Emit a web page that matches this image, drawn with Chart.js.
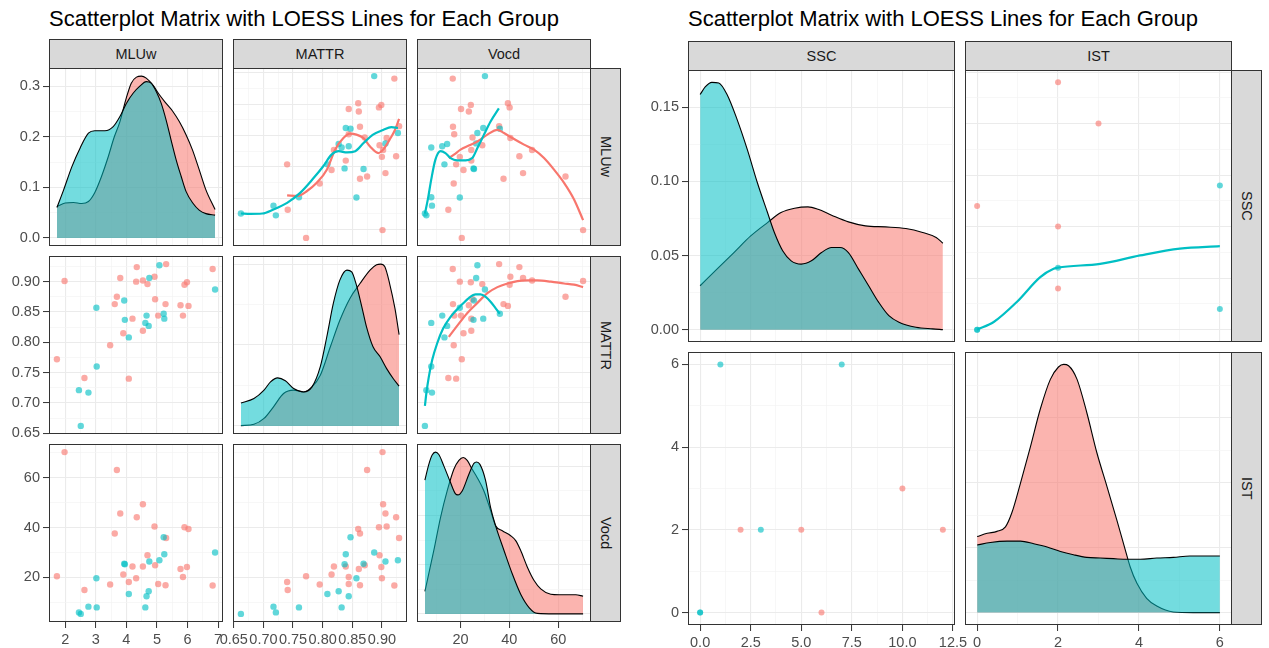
<!DOCTYPE html>
<html>
<head>
<meta charset="utf-8">
<script src="https://cdn.jsdelivr.net/npm/chart.js@4.4.1/dist/chart.umd.min.js"></script>
<style>
  body { margin: 0; background: #fff; width: 1269px; height: 648px; position: relative; overflow: hidden;
         font-family: "Liberation Sans", Arial, sans-serif; }
  .title { position: absolute; top: 8px; font-size: 22px; line-height: 22px; color: #000; white-space: nowrap; }
  .strip { position: absolute; box-sizing: border-box; background: #d9d9d9; border: 1px solid #333;
           display: flex; align-items: center; justify-content: center; font-size: 14.5px; color: #1a1a1a; }
  .strip.side span { writing-mode: vertical-rl; }
  canvas { position: absolute; }
</style>
</head>
<body>
<div class="title" style="left:49px">Scatterplot Matrix with LOESS Lines for Each Group</div>
<div class="title" style="left:688px">Scatterplot Matrix with LOESS Lines for Each Group</div>

<script>
  const RED = '#F8766D';
  const TEAL = '#00BFC4';
  const RED_PT = 'rgba(248,118,109,0.62)';
  const TEAL_PT = 'rgba(0,191,196,0.62)';
  const RED_FILL = 'rgba(248,118,109,0.55)';
  const TEAL_FILL = 'rgba(0,191,196,0.55)';
  const FONT = "'Liberation Sans', Arial, sans-serif";

  // ---- left matrix: MLUw / MATTR / Vocd per child ----
  const mluRed   = [1.73, 1.98, 2.63, 3.47, 3.62, 3.69, 3.80, 3.90, 4.08, 4.20, 4.32, 4.34, 4.54, 4.54, 4.69, 4.92, 4.94, 5.04, 5.28, 5.30, 5.77, 5.85, 5.90, 5.98, 6.03, 6.82];
  const mattrRed = [0.772, 0.901, 0.741, 0.795, 0.863, 0.875, 0.906, 0.815, 0.740, 0.839, 0.900, 0.924, 0.902, 0.819, 0.896, 0.908, 0.871, 0.844, 0.863, 0.929, 0.861, 0.844, 0.895, 0.899, 0.860, 0.921];
  const vocdRed  = [20.5, 70.2, 15.0, 17.2, 37.6, 63.0, 45.6, 21.2, 18.2, 24.4, 19.7, 44.1, 49.3, 24.4, 28.9, 40.4, 24.9, 17.4, 16.9, 35.8, 23.4, 20.2, 40.1, 24.2, 39.4, 16.8];

  const mluTeal   = [2.45, 2.51, 2.76, 3.02, 3.03, 3.93, 3.95, 4.08, 4.62, 4.66, 4.73, 4.75, 5.08, 5.22, 5.24, 6.90];
  const mattrTeal = [0.721, 0.662, 0.717, 0.857, 0.760, 0.869, 0.837, 0.808, 0.832, 0.844, 0.827, 0.906, 0.927, 0.847, 0.839, 0.887];
  const vocdTeal  = [6.0, 5.4, 8.3, 19.7, 8.0, 25.5, 25.3, 13.4, 8.0, 12.5, 14.5, 26.4, 26.9, 36.1, 29.3, 30.0];

  // densities on the diagonal
  const mluDenRedX  = [1.73, 2.00, 2.27, 2.54, 2.76, 2.97, 3.19, 3.41, 3.59, 3.79, 3.98, 4.16, 4.33, 4.49, 4.65, 4.87, 5.08, 5.30, 5.52, 5.73, 5.95, 6.16, 6.38, 6.60, 6.90];
  const mluDenRedY  = [0.062, 0.069, 0.070, 0.068, 0.072, 0.090, 0.122, 0.161, 0.197, 0.230, 0.273, 0.306, 0.318, 0.320, 0.316, 0.302, 0.283, 0.266, 0.250, 0.230, 0.204, 0.174, 0.135, 0.095, 0.056];
  const mluDenTealX = [1.73, 1.95, 2.22, 2.49, 2.76, 2.97, 3.30, 3.57, 3.79, 4.00, 4.22, 4.44, 4.65, 4.81, 4.98, 5.14, 5.30, 5.46, 5.63, 5.79, 5.95, 6.17, 6.38, 6.60, 6.90];
  const mluDenTealY = [0.060, 0.095, 0.141, 0.178, 0.207, 0.212, 0.212, 0.220, 0.240, 0.266, 0.286, 0.300, 0.309, 0.306, 0.289, 0.266, 0.233, 0.194, 0.154, 0.122, 0.092, 0.069, 0.055, 0.048, 0.045];

  const mattrDenRedX  = [0.662, 0.684, 0.701, 0.717, 0.734, 0.751, 0.768, 0.782, 0.796, 0.813, 0.829, 0.846, 0.863, 0.880, 0.891, 0.898, 0.905, 0.913, 0.922, 0.929];
  const mattrDenRedY  = [0.02, 0.10, 0.46, 1.18, 2.00, 2.21, 2.10, 2.41, 3.13, 4.89, 6.53, 7.88, 8.80, 9.63, 9.96, 10.0, 9.83, 8.80, 7.26, 5.64];
  const mattrDenTealX = [0.662, 0.684, 0.701, 0.712, 0.724, 0.737, 0.751, 0.768, 0.782, 0.796, 0.807, 0.818, 0.829, 0.841, 0.849, 0.857, 0.866, 0.874, 0.885, 0.897, 0.908, 0.919, 0.929];
  const mattrDenTealY = [1.42, 1.69, 2.21, 2.72, 2.97, 2.79, 2.31, 2.10, 2.41, 3.66, 5.51, 7.57, 9.01, 9.63, 9.52, 8.70, 7.37, 6.12, 4.89, 4.27, 3.54, 2.93, 2.46];

  const vocdDenRedX  = [5.4, 9.05, 11.79, 14.52, 17.26, 19.32, 21.1, 22.74, 24.79, 26.85, 29.58, 32.32, 34.37, 37.11, 40.53, 42.59, 44.64, 47.38, 50.12, 52.85, 56.96, 60.38, 63.8, 67.22, 70.2];
  const vocdDenRedY  = [0.0046, 0.0129, 0.0196, 0.0250, 0.0294, 0.0312, 0.0318, 0.0312, 0.0294, 0.0277, 0.0250, 0.0210, 0.0179, 0.0169, 0.0159, 0.0149, 0.0129, 0.0095, 0.0068, 0.0051, 0.0040, 0.0039, 0.0039, 0.0039, 0.0036];
  const vocdDenTealX = [5.4, 7.0, 8.37, 9.73, 11.1, 13.15, 15.89, 17.95, 18.9, 20.68, 23.42, 25.47, 26.57, 27.94, 30.27, 32.32, 34.37, 37.8, 41.22, 44.64, 48.06, 51.49, 58.33, 70.2];
  const vocdDenTealY = [0.0272, 0.0304, 0.0323, 0.0329, 0.0324, 0.0301, 0.0267, 0.0244, 0.0242, 0.0250, 0.0284, 0.0306, 0.0309, 0.0304, 0.0271, 0.0216, 0.0179, 0.0129, 0.0081, 0.0040, 0.0013, 0.0001, 0, 0];

  // loess smooths in the upper triangle
  const loMattrMluRedX  = [0.740, 0.757, 0.773, 0.790, 0.807, 0.821, 0.835, 0.846, 0.857, 0.869, 0.880, 0.894, 0.902, 0.913, 0.922, 0.929];
  const loMattrMluRedY  = [3.09, 3.07, 3.22, 3.49, 3.91, 4.55, 4.92, 5.06, 5.03, 4.92, 4.65, 4.44, 4.55, 4.87, 5.18, 5.53];
  const loMattrMluTealX = [0.662, 0.678, 0.698, 0.717, 0.740, 0.762, 0.785, 0.801, 0.815, 0.827, 0.841, 0.855, 0.869, 0.885, 0.902, 0.916, 0.927];
  const loMattrMluTealY = [2.51, 2.50, 2.51, 2.64, 2.85, 3.17, 3.65, 4.02, 4.39, 4.50, 4.46, 4.50, 4.76, 5.03, 5.18, 5.27, 5.24];

  const loVocdMluRedX  = [15.2, 17.3, 20.0, 23.4, 26.9, 31.0, 35.1, 37.8, 41.2, 46.0, 50.1, 54.2, 58.3, 62.4, 66.5, 70.2];
  const loVocdMluRedY  = [4.28, 4.39, 4.55, 4.68, 4.81, 5.03, 5.18, 5.08, 4.92, 4.71, 4.55, 4.28, 3.91, 3.49, 2.96, 2.30];
  const loVocdMluTealX = [5.4, 6.6, 8.0, 9.7, 11.8, 13.8, 15.9, 18.6, 22.1, 24.8, 26.9, 29.6, 32.3, 35.7];
  const loVocdMluTealY = [2.51, 2.96, 3.60, 4.23, 4.50, 4.44, 4.28, 4.21, 4.21, 4.28, 4.60, 5.03, 5.45, 5.87];

  const loVocdMattrRedX  = [15.2, 18.6, 22.7, 26.9, 31.0, 35.1, 39.2, 43.3, 47.4, 51.5, 57.0, 62.4, 66.5, 70.2];
  const loVocdMattrRedY  = [0.809, 0.827, 0.848, 0.865, 0.881, 0.891, 0.897, 0.901, 0.902, 0.902, 0.900, 0.897, 0.895, 0.891];
  const loVocdMattrTealX = [5.4, 6.0, 7.0, 8.4, 10.4, 12.9, 15.9, 20.0, 23.4, 26.2, 28.2, 30.3, 32.3, 34.4, 36.1];
  const loVocdMattrTealY = [0.695, 0.716, 0.743, 0.771, 0.798, 0.823, 0.842, 0.860, 0.873, 0.879, 0.879, 0.875, 0.867, 0.856, 0.847];

  // ---- right matrix: SSC / IST ----
  const sscRed  = [2, 5, 6, 10, 12];
  const istRed  = [2, 2, 0, 3, 2];
  const sscTeal = [0, 0, 1, 3, 7];
  const istTeal = [0, 0, 6, 2, 6];

  const sscDenRedX  = [0, 0.83, 1.67, 2.5, 3.33, 4.0, 4.67, 5.33, 5.83, 6.5, 7.33, 8.17, 9.17, 10.17, 11.0, 11.67, 12];
  const sscDenRedY  = [0.0296, 0.0408, 0.0520, 0.0632, 0.0722, 0.0790, 0.0819, 0.0828, 0.0812, 0.0772, 0.0727, 0.0700, 0.0693, 0.0682, 0.0655, 0.0621, 0.0583];
  const sscDenTealX = [0, 0.25, 0.58, 0.92, 1.33, 1.83, 2.33, 2.83, 3.33, 3.67, 4.08, 4.5, 5.0, 5.5, 6.0, 6.5, 6.92, 7.33, 7.83, 8.33, 8.83, 9.33, 9.83, 10.67, 11.5, 12];
  const sscDenTealY = [0.1586, 0.1637, 0.1668, 0.1664, 0.1586, 0.1417, 0.1216, 0.0991, 0.0790, 0.0655, 0.0532, 0.0464, 0.0442, 0.0464, 0.0520, 0.0554, 0.0554, 0.0520, 0.0408, 0.0296, 0.0184, 0.0094, 0.0050, 0.0016, 0.0005, 0];

  const istDenRedX  = [0, 0.25, 0.49, 0.70, 0.86, 1.07, 1.32, 1.56, 1.81, 2.01, 2.14, 2.26, 2.47, 2.71, 2.96, 3.21, 3.45, 3.66, 3.78, 3.95, 4.19, 4.44, 4.85, 5.34, 6];
  const istDenRedY  = [0.117, 0.122, 0.125, 0.132, 0.154, 0.199, 0.256, 0.313, 0.359, 0.378, 0.382, 0.380, 0.359, 0.308, 0.246, 0.194, 0.143, 0.097, 0.071, 0.045, 0.022, 0.010, 0.001, 0, 0];
  const istDenTealX = [0, 0.33, 0.74, 1.07, 1.40, 1.73, 2.06, 2.38, 2.71, 3.04, 3.37, 3.70, 4.03, 4.44, 4.85, 5.26, 5.67, 6];
  const istDenTealY = [0.104, 0.108, 0.110, 0.110, 0.106, 0.101, 0.094, 0.089, 0.085, 0.084, 0.083, 0.082, 0.082, 0.084, 0.085, 0.087, 0.087, 0.087];

  const loIstSscTealX = [0, 0.41, 0.98, 1.56, 1.89, 2.0, 3.04, 4.03, 5.01, 6.0];
  const loIstSscTealY = [0, 0.37, 1.34, 2.55, 2.95, 3.01, 3.19, 3.60, 3.93, 4.05];

  // ---- tick breaks ----
  const mluBreaks = [2, 3, 4, 5, 6, 7];
  const mluLabels = ['2', '3', '4', '5', '6', '7'];
  const mattrBreaks = [0.65, 0.70, 0.75, 0.80, 0.85, 0.90];
  const mattrLabels = ['0.65', '0.70', '0.75', '0.80', '0.85', '0.90'];
  const vocdBreaks = [20, 40, 60];
  const vocdLabels = ['20', '40', '60'];
  const mluDenBreaks = [0, 0.1, 0.2, 0.3];
  const mluDenLabels = ['0.0', '0.1', '0.2', '0.3'];
  const mattrDenBreaks = [0, 5, 10];
  const vocdDenBreaks = [0, 0.01, 0.02, 0.03];
  const sscBreaks = [0, 2.5, 5, 7.5, 10, 12.5];
  const sscLabels = ['0.0', '2.5', '5.0', '7.5', '10.0', '12.5'];
  const istBreaks = [0, 2, 4, 6];
  const istLabels = ['0', '2', '4', '6'];
  const sscDenBreaks = [0, 0.05, 0.10, 0.15];
  const sscDenLabels = ['0.00', '0.05', '0.10', '0.15'];
  const istDenBreaks = [0, 0.1, 0.2, 0.3, 0.4];

  // ggplot style 5% expansion of the data range
  function span(vals) {
    const lo = Math.min(...vals), hi = Math.max(...vals), d = (hi - lo) * 0.05;
    return [lo - d, hi + d];
  }

  // minor lines sit halfway between breaks (and one step beyond the ends)
  function makeSpec(vals, breaks, labels) {
    const [min, max] = span(vals);
    const step = breaks[1] - breaks[0];
    const minor = [];
    for (let i = -1; i < breaks.length; i++) {
      const v = breaks[0] + (i + 0.5) * step;
      if (v > min && v < max) minor.push(+v.toFixed(6));
    }
    return { min, max, breaks, labels: labels || breaks.map(String), minor };
  }

  const mluSpec   = makeSpec(mluRed.concat(mluTeal), mluBreaks, mluLabels);
  const mattrSpec = makeSpec(mattrRed.concat(mattrTeal), mattrBreaks, mattrLabels);
  const vocdSpec  = makeSpec(vocdRed.concat(vocdTeal), vocdBreaks, vocdLabels);
  const mluDenSpec   = makeSpec([0].concat(mluDenRedY, mluDenTealY), mluDenBreaks, mluDenLabels);
  const mattrDenSpec = makeSpec([0].concat(mattrDenRedY, mattrDenTealY), mattrDenBreaks);
  const vocdDenSpec  = makeSpec([0].concat(vocdDenRedY, vocdDenTealY), vocdDenBreaks);
  const sscSpec = makeSpec(sscRed.concat(sscTeal), sscBreaks, sscLabels);
  const istSpec = makeSpec(istRed.concat(istTeal), istBreaks, istLabels);
  const sscDenSpec = makeSpec([0].concat(sscDenRedY, sscDenTealY), sscDenBreaks, sscDenLabels);
  const istDenSpec = makeSpec([0].concat(istDenRedY, istDenTealY), istDenBreaks);

  const pairs = (xs, ys) => xs.map((x, i) => ({ x: x, y: ys[i] }));

  function points(xs, ys, color, r, order) {
    return { type: 'scatter', data: pairs(xs, ys), backgroundColor: color, borderColor: color,
             borderWidth: 0, pointRadius: r, order: order };
  }
  function smooth(xs, ys, color, order) {
    return { type: 'line', data: pairs(xs, ys), borderColor: color, borderWidth: 2.2, pointRadius: 0,
             fill: false, cubicInterpolationMode: 'monotone', order: order };
  }
  function density(xs, ys, fillColor, order) {
    return { type: 'line', data: pairs(xs, ys), borderColor: '#000', borderWidth: 1.1, pointRadius: 0,
             backgroundColor: fillColor, fill: 'origin', cubicInterpolationMode: 'monotone', order: order };
  }

  function axis(spec, size, pos) {
    const isMajor = v => spec.breaks.indexOf(v) >= 0;
    return {
      type: 'linear', position: pos, min: spec.min, max: spec.max,
      afterBuildTicks: s => {
        s.ticks = spec.breaks.concat(spec.minor).filter(v => v >= spec.min && v <= spec.max)
          .sort((a, b) => a - b).map(v => ({ value: v }));
      },
      afterFit: s => { if (pos === 'left') s.width = size; else s.height = size; },
      border: { display: false },
      grid: {
        color: c => (c.tick && isMajor(c.tick.value)) ? '#EBEBEB' : '#F4F4F4',
        lineWidth: c => (c.tick && isMajor(c.tick.value)) ? 1.1 : 0.7,
        drawTicks: size > 0, tickLength: 6, tickWidth: 1,
        tickColor: c => (c.tick && isMajor(c.tick.value)) ? '#333' : 'rgba(0,0,0,0)'
      },
      ticks: {
        display: size > 0, autoSkip: false, maxRotation: 0, minRotation: 0, padding: 3,
        color: '#4D4D4D', font: { family: FONT, size: 14.5 },
        callback: v => { const i = spec.breaks.indexOf(v); return i < 0 ? '' : spec.labels[i]; }
      }
    };
  }

  // dark frame round every panel
  const frame = {
    id: 'frame',
    afterDatasetsDraw(chart) {
      const a = chart.chartArea, ctx = chart.ctx;
      ctx.save();
      ctx.strokeStyle = '#333';
      ctx.lineWidth = 1;
      ctx.strokeRect(a.left + 0.5, a.top + 0.5, a.right - a.left - 1, a.bottom - a.top - 1);
      ctx.restore();
    }
  };

  function panel(rect, xSpec, ySpec, datasets, showY, showX) {
    const m = 24;
    const axL = showY ? 48 : 0;
    const axB = showX ? 30 : 0;
    const cv = document.createElement('canvas');
    cv.width = rect.w + axL + 2 * m;
    cv.height = rect.h + axB + 2 * m;
    cv.style.left = (rect.x - axL - m) + 'px';
    cv.style.top = (rect.y - m) + 'px';
    cv.style.width = cv.width + 'px';
    cv.style.height = cv.height + 'px';
    document.body.appendChild(cv);
    new Chart(cv, {
      type: 'scatter',
      data: { datasets: datasets },
      options: {
        responsive: false, animation: false, devicePixelRatio: 1, events: [],
        layout: { autoPadding: false, padding: { left: m, right: m, top: m, bottom: m } },
        plugins: { legend: { display: false }, tooltip: { enabled: false } },
        scales: { x: axis(xSpec, axB, 'bottom'), y: axis(ySpec, axL, 'left') }
      },
      plugins: [frame]
    });
  }

  function strip(text, x, y, w, h, side) {
    const d = document.createElement('div');
    d.className = 'strip' + (side ? ' side' : '');
    d.style.left = x + 'px'; d.style.top = y + 'px';
    d.style.width = w + 'px'; d.style.height = h + 'px';
    d.innerHTML = '<span>' + text + '</span>';
    document.body.appendChild(d);
  }

  // ---- left matrix layout ----
  const lCols = [{ x: 49, w: 174 }, { x: 233, w: 174 }, { x: 417, w: 174 }];
  const lRows = [{ y: 68, h: 178 }, { y: 256, h: 178 }, { y: 444, h: 178 }];
  const lNames = ['MLUw', 'MATTR', 'Vocd'];
  const cell = (c, r, cols, rows) => ({ x: cols[c].x, y: rows[r].y, w: cols[c].w, h: rows[r].h });

  panel(cell(0, 0, lCols, lRows), mluSpec, mluDenSpec, [
    density(mluDenTealX, mluDenTealY, TEAL_FILL, 0),
    density(mluDenRedX, mluDenRedY, RED_FILL, 1)
  ], true, false);
  panel(cell(1, 0, lCols, lRows), mattrSpec, mluSpec, [
    smooth(loMattrMluTealX, loMattrMluTealY, TEAL, 0),
    smooth(loMattrMluRedX, loMattrMluRedY, RED, 0.5),
    points(mattrTeal, mluTeal, TEAL_PT, 3.2, 1),
    points(mattrRed, mluRed, RED_PT, 3.2, 2)
  ], false, false);
  panel(cell(2, 0, lCols, lRows), vocdSpec, mluSpec, [
    smooth(loVocdMluTealX, loVocdMluTealY, TEAL, 0),
    smooth(loVocdMluRedX, loVocdMluRedY, RED, 0.5),
    points(vocdTeal, mluTeal, TEAL_PT, 3.2, 1),
    points(vocdRed, mluRed, RED_PT, 3.2, 2)
  ], false, false);

  panel(cell(0, 1, lCols, lRows), mluSpec, mattrSpec, [
    points(mluTeal, mattrTeal, TEAL_PT, 3.2, 1),
    points(mluRed, mattrRed, RED_PT, 3.2, 2)
  ], true, false);
  panel(cell(1, 1, lCols, lRows), mattrSpec, mattrDenSpec, [
    density(mattrDenTealX, mattrDenTealY, TEAL_FILL, 0),
    density(mattrDenRedX, mattrDenRedY, RED_FILL, 1)
  ], false, false);
  panel(cell(2, 1, lCols, lRows), vocdSpec, mattrSpec, [
    smooth(loVocdMattrTealX, loVocdMattrTealY, TEAL, 0),
    smooth(loVocdMattrRedX, loVocdMattrRedY, RED, 0.5),
    points(vocdTeal, mattrTeal, TEAL_PT, 3.2, 1),
    points(vocdRed, mattrRed, RED_PT, 3.2, 2)
  ], false, false);

  panel(cell(0, 2, lCols, lRows), mluSpec, vocdSpec, [
    points(mluTeal, vocdTeal, TEAL_PT, 3.2, 1),
    points(mluRed, vocdRed, RED_PT, 3.2, 2)
  ], true, true);
  panel(cell(1, 2, lCols, lRows), mattrSpec, vocdSpec, [
    points(mattrTeal, vocdTeal, TEAL_PT, 3.2, 1),
    points(mattrRed, vocdRed, RED_PT, 3.2, 2)
  ], false, true);
  panel(cell(2, 2, lCols, lRows), vocdSpec, vocdDenSpec, [
    density(vocdDenTealX, vocdDenTealY, TEAL_FILL, 0),
    density(vocdDenRedX, vocdDenRedY, RED_FILL, 1)
  ], false, true);

  lNames.forEach((n, i) => {
    strip(n, lCols[i].x, 39, lCols[i].w, 30, false);
    strip(n, 590, lRows[i].y, 31, lRows[i].h, true);
  });

  // ---- right matrix layout ----
  const rCols = [{ x: 688, w: 267 }, { x: 965, w: 267 }];
  const rRows = [{ y: 70, h: 272 }, { y: 352, h: 273 }];
  const rNames = ['SSC', 'IST'];

  panel(cell(0, 0, rCols, rRows), sscSpec, sscDenSpec, [
    density(sscDenTealX, sscDenTealY, TEAL_FILL, 0),
    density(sscDenRedX, sscDenRedY, RED_FILL, 1)
  ], true, false);
  panel(cell(1, 0, rCols, rRows), istSpec, sscSpec, [
    smooth(loIstSscTealX, loIstSscTealY, TEAL, 0),
    points(istTeal, sscTeal, TEAL_PT, 3, 1),
    points(istRed, sscRed, RED_PT, 3, 2)
  ], false, false);
  panel(cell(0, 1, rCols, rRows), sscSpec, istSpec, [
    points(sscTeal, istTeal, TEAL_PT, 3, 1),
    points(sscRed, istRed, RED_PT, 3, 2)
  ], true, true);
  panel(cell(1, 1, rCols, rRows), istSpec, istDenSpec, [
    density(istDenTealX, istDenTealY, TEAL_FILL, 0),
    density(istDenRedX, istDenRedY, RED_FILL, 1)
  ], false, true);

  rNames.forEach((n, i) => {
    strip(n, rCols[i].x, 41, rCols[i].w, 30, false);
    strip(n, 1231, rRows[i].y, 31, rRows[i].h, true);
  });
</script>
</body>
</html>
